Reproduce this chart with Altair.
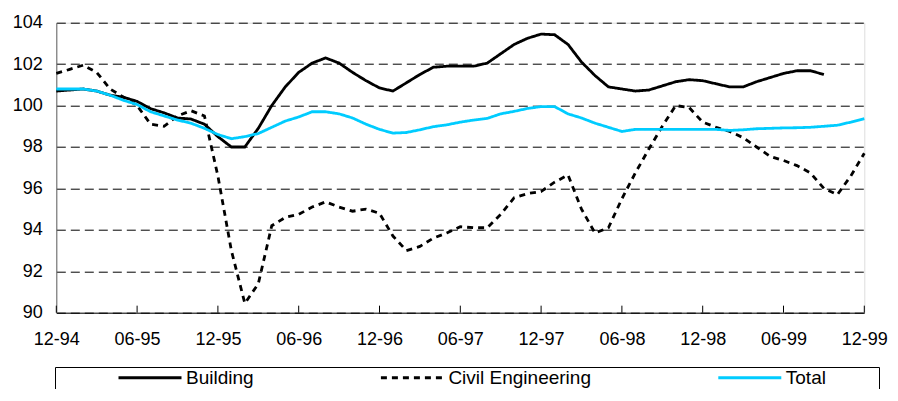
import altair as alt
import pandas as pd

tick_labels = ["12-94", "06-95", "12-95", "06-96", "12-96", "06-97",
               "12-97", "06-98", "12-98", "06-99", "12-99"]
series_names = ["Building", "Civil Engineering", "Total"]

building = [100.7, 100.75, 100.8, 100.7, 100.5, 100.4, 100.2, 99.85, 99.65, 99.4,
            99.35, 99.1, 98.5, 98.0, 98.0, 98.9, 100.0, 100.9, 101.6, 102.05,
            102.3, 102.05, 101.6, 101.2, 100.85, 100.7, 101.1, 101.5, 101.85, 101.9,
            101.9, 101.9, 102.05, 102.5, 102.95, 103.25, 103.45, 103.42, 102.95, 102.1,
            101.45, 100.9, 100.8, 100.7, 100.75, 100.95, 101.15, 101.25, 101.2, 101.05,
            100.9, 100.9, 101.15, 101.35, 101.55, 101.68, 101.68, 101.5]

civil = [101.55, 101.75, 101.95, 101.6, 100.8, 100.4, 100.0, 99.1, 99.0, 99.5,
         99.75, 99.5, 96.6, 93.0, 90.45, 91.4, 94.2, 94.6, 94.75, 95.1,
         95.35, 95.1, 94.9, 95.0, 94.8, 93.7, 93.0, 93.2, 93.6, 93.85,
         94.15, 94.1, 94.1, 94.75, 95.55, 95.75, 95.85, 96.3, 96.65, 95.0,
         93.85, 94.1, 95.5, 96.75, 97.9, 99.0, 100.0, 99.9, 99.2, 98.95,
         98.75, 98.45, 98.0, 97.55, 97.35, 97.1, 96.75, 96.0, 95.7, 96.6,
         97.7]

total = [100.8, 100.8, 100.8, 100.7, 100.5, 100.25, 100.05, 99.7, 99.5, 99.3,
         99.15, 98.9, 98.6, 98.4, 98.5, 98.65, 98.95, 99.25, 99.45, 99.7,
         99.7, 99.6, 99.4, 99.1, 98.85, 98.67, 98.7, 98.83, 98.98, 99.07,
         99.2, 99.3, 99.38, 99.6, 99.72, 99.86, 99.95, 99.95, 99.6, 99.4,
         99.15, 98.95, 98.75, 98.85, 98.85, 98.85, 98.85, 98.85, 98.85, 98.85,
         98.8, 98.83, 98.88, 98.9, 98.92, 98.93, 98.95, 99.0, 99.05, 99.2,
         99.37]

y_ticks = [90, 92, 94, 96, 98, 100, 102, 104]

rows = []
for name, vals in zip(series_names, [building, civil, total]):
    for i, v in enumerate(vals):
        rows.append({"month": i, "value": v, "series": name})
df = pd.DataFrame(rows)

tick_months = [6 * k for k in range(len(tick_labels))]
tick_df = pd.DataFrame({"month": tick_months})

label_expr = "[" + ",".join("'%s'" % t for t in tick_labels) + "][round(datum.value / 6)]"

FONT = "Liberation Sans"
x_scale = alt.Scale(domain=[0, 60], nice=False, zero=False)
y_scale = alt.Scale(domain=[90, 104], nice=False, zero=False)

legend = alt.Legend(
    title=" ", titleOrient="right", titlePadding=51, titleFontSize=18,
    orient="none", legendX=-1.3, legendY=344.3, direction="horizontal",
    symbolType="stroke", symbolSize=3969, symbolStrokeWidth=2.8, clipHeight=17,
    symbolOffset=60, labelOffset=3, labelFont=FONT, labelFontSize=19, labelColor="black",
    columnPadding=65.4, padding=2, strokeColor="black", fillColor="white",
)

lines = alt.Chart(df).mark_line(strokeWidth=2.8).encode(
    x=alt.X("month:Q", scale=x_scale,
            axis=alt.Axis(values=tick_months, labelExpr=label_expr, title=None,
                          ticks=False, grid=False, domainColor="black", domainWidth=1,
                          labelFont=FONT, labelFontSize=18, labelColor="black",
                          labelPadding=18, labelFlush=False)),
    y=alt.Y("value:Q", scale=y_scale,
            axis=alt.Axis(values=y_ticks, title=None, ticks=False, grid=True,
                          gridDash=[9, 5], gridColor="black", gridWidth=1,
                          domainColor="#666666", labelFont=FONT, labelFontSize=18,
                          labelColor="black", labelPadding=14)),
    color=alt.Color("series:N", scale=alt.Scale(domain=series_names,
                                                 range=["black", "black", "#00CCFF"]),
                    legend=legend),
    strokeDash=alt.StrokeDash("series:N", scale=alt.Scale(domain=series_names,
                                                           range=[[1, 0], [6, 5], [1, 0]]),
                              legend=legend),
)

ticks = alt.Chart(tick_df).mark_rule(color="black", strokeWidth=1).encode(
    x=alt.X("month:Q", scale=x_scale),
    y=alt.datum(90),
    y2=alt.datum(90.34),
)

chart = alt.layer(ticks, lines).properties(
    width=808, height=290,
    autosize=alt.AutoSizeParams(type="none"),
    padding={"left": 48.3, "top": 14.7, "right": 25.7, "bottom": 76.3},
).configure_view(stroke=None).configure(background="white")

chart.save("out.html", embed_options={"renderer": "svg", "actions": False})
